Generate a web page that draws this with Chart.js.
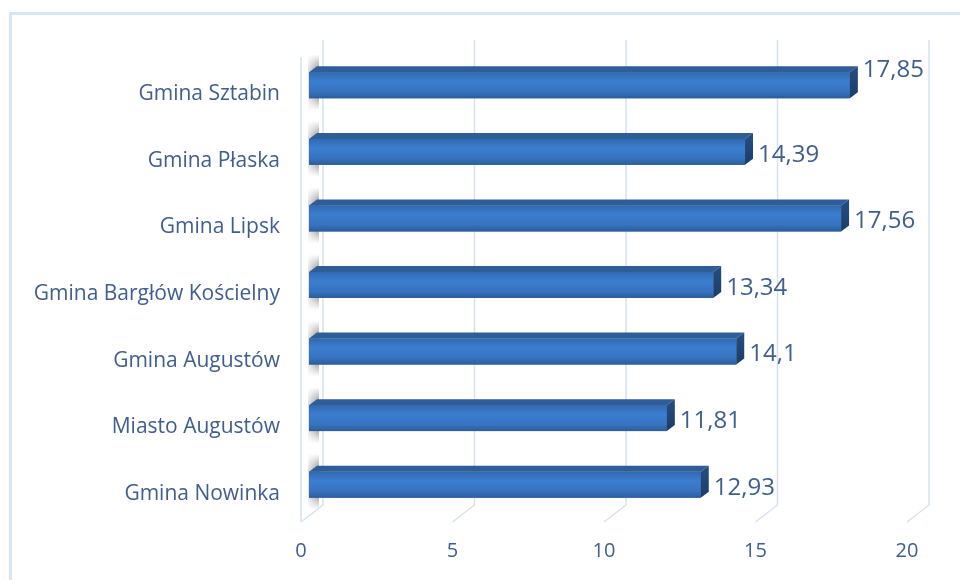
<!DOCTYPE html>
<html>
<head>
<meta charset="utf-8">
<script src="https://cdn.jsdelivr.net/npm/chart.js@4.4.1/dist/chart.umd.min.js"></script>
<style>
  html, body { margin: 0; padding: 0; background: #fff; }
  #wrap { width: 960px; height: 580px; position: relative; }
</style>
</head>
<body>
<div id="wrap"><canvas id="chart" width="960" height="580"></canvas></div>
<script>
const categories = [
  'Gmina Sztabin',
  'Gmina Płaska',
  'Gmina Lipsk',
  'Gmina Bargłów Kościelny',
  'Gmina Augustów',
  'Miasto Augustów',
  'Gmina Nowinka'
];
const values = [17.85, 14.39, 17.56, 13.34, 14.1, 11.81, 12.93];
const xTicks = [0, 5, 10, 15, 20];

const textColor = '#3F5E8E';
const gridColor = '#D5E1F2';
const fontFamily = '"Open Sans", "Liberation Sans", sans-serif';

// depth of the 3D box (back wall offset from bar plane, front offset)
const back = { dx: 14, dy: -13 };
const front = { dx: -8, dy: 4 };
const barDepth = { dx: 8, dy: -6 };

const fmt = v => String(v).replace('.', ',');

const threeD = {
  id: 'threeD',
  beforeDraw(chart) {
    const ctx = chart.ctx;
    ctx.save();
    ctx.strokeStyle = '#DAE5F3';
    ctx.lineWidth = 3;
    ctx.strokeRect(10.5, 13.5, 980, 600);
    ctx.restore();
  },
  beforeDatasetsDraw(chart) {
    const { ctx, chartArea, scales } = chart;
    const x = scales.x;
    const topY = chartArea.top - 12;
    const backBottom = chartArea.bottom + back.dy;
    const frontBottom = chartArea.bottom + front.dy;
    ctx.save();
    ctx.strokeStyle = gridColor;
    ctx.lineWidth = 1.5;
    xTicks.forEach(t => {
      const px = x.getPixelForValue(t);
      ctx.beginPath();
      ctx.moveTo(px + back.dx, topY);
      ctx.lineTo(px + back.dx, backBottom);
      ctx.lineTo(px + front.dx, frontBottom);
      ctx.stroke();
    });
    // left wall front edge
    const px0 = x.getPixelForValue(0);
    ctx.beginPath();
    ctx.moveTo(px0 + front.dx, chartArea.top + 5);
    ctx.lineTo(px0 + front.dx, frontBottom);
    ctx.stroke();

    // shading on the left wall around each bar
    const meta = chart.getDatasetMeta(0);
    meta.data.forEach(el => {
      const top = el.y - el.height / 2 - 18;
      const bottom = el.y + el.height / 2 + 12;
      const g = ctx.createLinearGradient(0, top, 0, bottom);
      g.addColorStop(0, 'rgba(80,80,80,0)');
      g.addColorStop(0.3, 'rgba(80,80,80,0.7)');
      g.addColorStop(0.7, 'rgba(80,80,80,0.7)');
      g.addColorStop(1, 'rgba(80,80,80,0)');
      ctx.fillStyle = g;
      ctx.fillRect(px0 - 1, top, 11, bottom - top);
      const h = ctx.createLinearGradient(px0 - 2, 0, px0 + 11, 0);
      h.addColorStop(0, 'rgba(255,255,255,0.85)');
      h.addColorStop(1, 'rgba(255,255,255,0)');
      ctx.fillStyle = h;
      ctx.fillRect(px0 - 1, top, 11, bottom - top);
    });
    ctx.restore();
  },
  afterDatasetsDraw(chart) {
    const { ctx } = chart;
    const meta = chart.getDatasetMeta(0);
    ctx.save();
    meta.data.forEach((el, i) => {
      const top = el.y - el.height / 2;
      const bottom = el.y + el.height / 2;
      const left = el.base;
      const right = el.x;
      // front face
      const g = ctx.createLinearGradient(0, top, 0, bottom);
      g.addColorStop(0, '#3169B0');
      g.addColorStop(0.35, '#3B7ECF');
      g.addColorStop(0.75, '#3673C0');
      g.addColorStop(1, '#2D5C98');
      ctx.fillStyle = g;
      ctx.fillRect(left, top, right - left, bottom - top);
      // top face
      ctx.fillStyle = '#2E5D97';
      ctx.beginPath();
      ctx.moveTo(left, top);
      ctx.lineTo(left + barDepth.dx, top + barDepth.dy);
      ctx.lineTo(right + barDepth.dx, top + barDepth.dy);
      ctx.lineTo(right, top);
      ctx.closePath();
      ctx.fill();
      // end face
      const e = ctx.createLinearGradient(0, top, 0, bottom);
      e.addColorStop(0, '#244B7E');
      e.addColorStop(1, '#1B3C68');
      ctx.fillStyle = e;
      ctx.beginPath();
      ctx.moveTo(right, top);
      ctx.lineTo(right + barDepth.dx, top + barDepth.dy);
      ctx.lineTo(right + barDepth.dx, bottom + barDepth.dy);
      ctx.lineTo(right, bottom);
      ctx.closePath();
      ctx.fill();
      // value label
      ctx.fillStyle = textColor;
      ctx.font = '24px ' + fontFamily;
      ctx.textAlign = 'left';
      ctx.textBaseline = 'middle';
      const ly = i === 0 ? el.y - 15 : el.y + 3;
      ctx.fillText(fmt(values[i]), right + 13, ly);
    });
    ctx.restore();
  }
};

new Chart(document.getElementById('chart'), {
  type: 'bar',
  data: {
    labels: categories,
    datasets: [{
      data: values,
      backgroundColor: '#3672BE',
      barPercentage: 0.39,
      categoryPercentage: 1
    }]
  },
  options: {
    indexAxis: 'y',
    responsive: false,
    animation: false,
    layout: { padding: { top: 52, right: 45, bottom: 0, left: 0 } },
    plugins: {
      legend: { display: false },
      tooltip: { enabled: false }
    },
    scales: {
      x: {
        min: 0,
        max: 20,
        afterBuildTicks: s => { s.ticks = xTicks.map(v => ({ value: v })); },
        grid: { display: false, drawTicks: false },
        border: { display: false },
        ticks: {
          color: textColor,
          font: { family: fontFamily, size: 20 },
          padding: 21,
          labelOffset: -8,
          maxRotation: 0
        },
        afterFit: s => { s.height = 62; }
      },
      y: {
        grid: { display: false, drawTicks: false },
        border: { display: false },
        ticks: {
          color: textColor,
          font: { family: fontFamily, size: 21 },
          padding: 29,
          labelOffset: 9
        },
        afterFit: s => { s.width = 309; }
      }
    }
  },
  plugins: [threeD]
});
</script>
</body>
</html>
